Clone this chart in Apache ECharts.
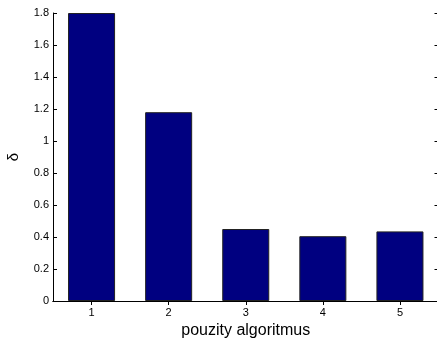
<!DOCTYPE html>
<html>
<head>
<meta charset="utf-8">
<script src="https://cdn.jsdelivr.net/npm/echarts@6/dist/echarts.min.js"></script>
<style>
  html, body { margin: 0; padding: 0; background: #fff; }
  #chart { width: 437px; height: 343px; }
</style>
</head>
<body>
<div id="chart"></div>
<script>
// Algorithm indices on the x axis and the delta measured for each
const categories = ['1', '2', '3', '4', '5'];
const deltaValues = [1.8, 1.18, 0.45, 0.405, 0.435];
const yTicks = { min: 0, max: 1.8, step: 0.2 };

const font = 'Liberation Sans, Arial, Helvetica, sans-serif';
const chart = echarts.init(document.getElementById('chart'));

const tickStyle = { show: true, inside: true, length: 4, lineStyle: { color: '#000', width: 1 } };

chart.setOption({
  animation: false,
  backgroundColor: '#fff',
  grid: { left: 53, top: 13, right: -1.5, bottom: 42, containLabel: false, outerBoundsMode: 'none' },
  xAxis: [
    {
      type: 'category',
      data: categories,
      boundaryGap: true,
      name: 'pouzity algoritmus',
      nameLocation: 'middle',
      nameGap: 20,
      nameTextStyle: { fontFamily: font, fontSize: 16, color: '#000' },
      axisLine: { lineStyle: { color: '#000', width: 1 } },
      axisTick: Object.assign({ alignWithLabel: true }, tickStyle),
      axisLabel: { fontFamily: font, fontSize: 11, color: '#000', margin: 6 },
      splitLine: { show: false }
    },
    {
      type: 'category',
      data: categories,
      position: 'top',
      boundaryGap: true,
      axisLine: { lineStyle: { color: '#000', width: 1 } },
      axisTick: Object.assign({ alignWithLabel: true }, tickStyle),
      axisLabel: { show: false }
    }
  ],
  yAxis: [
    {
      type: 'value',
      min: yTicks.min,
      max: yTicks.max,
      interval: yTicks.step,
      name: 'δ',
      nameLocation: 'middle',
      nameGap: 32,
      nameRotate: 90,
      nameTextStyle: { fontFamily: font, fontSize: 15, color: '#000' },
      axisLine: { show: true, lineStyle: { color: '#000', width: 1 } },
      axisTick: tickStyle,
      axisLabel: {
        fontFamily: font, fontSize: 11, color: '#000', margin: 4,
        formatter: v => String(Math.round(v * 10) / 10)
      },
      splitLine: { show: false }
    },
    {
      type: 'value',
      position: 'right',
      min: yTicks.min,
      max: yTicks.max,
      interval: yTicks.step,
      axisLine: { show: true, lineStyle: { color: '#000', width: 1 } },
      axisTick: tickStyle,
      axisLabel: { show: false },
      splitLine: { show: false }
    }
  ],
  series: [{
    type: 'bar',
    data: deltaValues,
    barWidth: '61%',
    itemStyle: { color: '#000080', borderColor: '#222', borderWidth: 1 },
    emphasis: { disabled: true }
  }]
});
</script>
</body>
</html>
